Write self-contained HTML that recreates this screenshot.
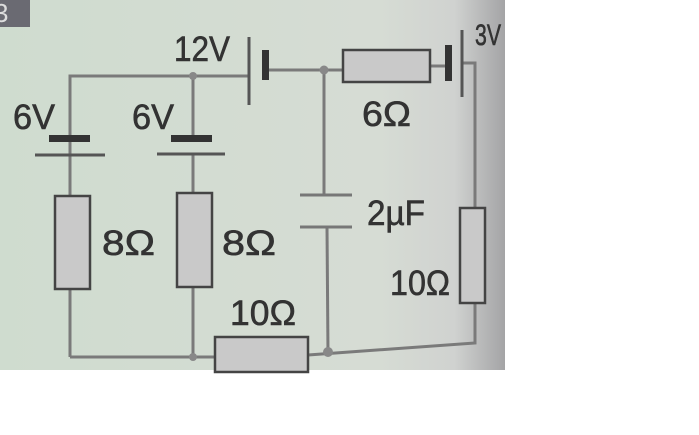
<!DOCTYPE html>
<html><head><style>
html,body{margin:0;padding:0;background:#fff;width:699px;height:435px;overflow:hidden}
text{font-family:"Liberation Sans",sans-serif;fill:#333;font-size:35px;stroke:#333;stroke-width:0.6}
</style></head><body>
<svg width="699" height="435" viewBox="0 0 699 435" xmlns="http://www.w3.org/2000/svg">
<defs>
<linearGradient id="bg" x1="0" x2="1" y1="0" y2="0">
<stop offset="0" stop-color="#cfdccf"/>
<stop offset="0.75" stop-color="#d6dcd4"/>
<stop offset="0.9" stop-color="#d0d2d0"/>
<stop offset="1" stop-color="#a4a4a6"/>
</linearGradient>
</defs>
<rect x="0" y="0" width="505" height="370" fill="url(#bg)"/>
<rect x="0" y="0" width="30" height="27" fill="#6a6a72"/>
<text x="-6" y="22" style="fill:#ddd;stroke:none;font-size:26px">3</text>
<g stroke="#7a7a7a" stroke-width="3" fill="none">
<polyline points="70,155 70,76 249,76"/>
<line x1="193" y1="76" x2="193" y2="138"/>
<line x1="70" y1="155" x2="70" y2="196"/>
<line x1="193" y1="154" x2="193" y2="193"/>
<line x1="70" y1="289" x2="70" y2="357"/>
<line x1="193" y1="287" x2="193" y2="357"/>
<polyline points="70,357 215,357"/>
<polyline points="308,355 475,343 475,303"/>
<line x1="265" y1="70" x2="343" y2="70"/>
<line x1="324" y1="70" x2="324" y2="195"/>
<line x1="327" y1="227" x2="328" y2="354"/>
<line x1="430" y1="66" x2="449" y2="66"/>
<polyline points="462,63 475,63 475,208"/>
</g>
<g fill="#c9c9c9" stroke="#444" stroke-width="2.5">
<rect x="55" y="196" width="35" height="93"/>
<rect x="177" y="193" width="35" height="94"/>
<rect x="343" y="50" width="87" height="32"/>
<rect x="460" y="208" width="25" height="95"/>
<rect x="215" y="337" width="93" height="35"/>
</g>
<g fill="#333">
<rect x="49" y="135" width="41" height="7"/>
<rect x="171" y="135" width="41" height="7"/>
<rect x="262" y="50" width="7" height="30"/>
<rect x="445" y="45" width="7" height="36"/>
</g>
<g stroke="#555" stroke-width="3">
<line x1="35" y1="155" x2="105" y2="155"/>
<line x1="157" y1="154" x2="225" y2="154"/>
<line x1="249" y1="37" x2="249" y2="105"/>
<line x1="462" y1="30" x2="462" y2="97"/>
<line x1="300" y1="195" x2="352" y2="195" stroke="#777"/>
<line x1="300" y1="227" x2="352" y2="227" stroke="#777"/>
</g>
<g fill="#888">
<circle cx="193" cy="76" r="4"/>
<circle cx="324" cy="70" r="4.5"/>
<circle cx="193" cy="357" r="4"/>
<circle cx="328" cy="352" r="5"/>
</g>
<text x="174" y="61" textLength="56" lengthAdjust="spacingAndGlyphs">12V</text>
<text x="13" y="129" textLength="42" lengthAdjust="spacingAndGlyphs">6V</text>
<text x="132" y="129" textLength="42" lengthAdjust="spacingAndGlyphs">6V</text>
<text x="102" y="255" textLength="53" lengthAdjust="spacingAndGlyphs">8Ω</text>
<text x="222" y="255" textLength="54" lengthAdjust="spacingAndGlyphs">8Ω</text>
<text x="230" y="325" textLength="66" lengthAdjust="spacingAndGlyphs">10Ω</text>
<text x="367" y="225" textLength="58" lengthAdjust="spacingAndGlyphs">2µF</text>
<text x="362" y="126" textLength="49" lengthAdjust="spacingAndGlyphs">6Ω</text>
<text x="390" y="295" textLength="60" lengthAdjust="spacingAndGlyphs">10Ω</text>
<text x="475" y="45" textLength="26" lengthAdjust="spacingAndGlyphs" style="font-size:30px">3V</text>
</svg>
</body></html>
